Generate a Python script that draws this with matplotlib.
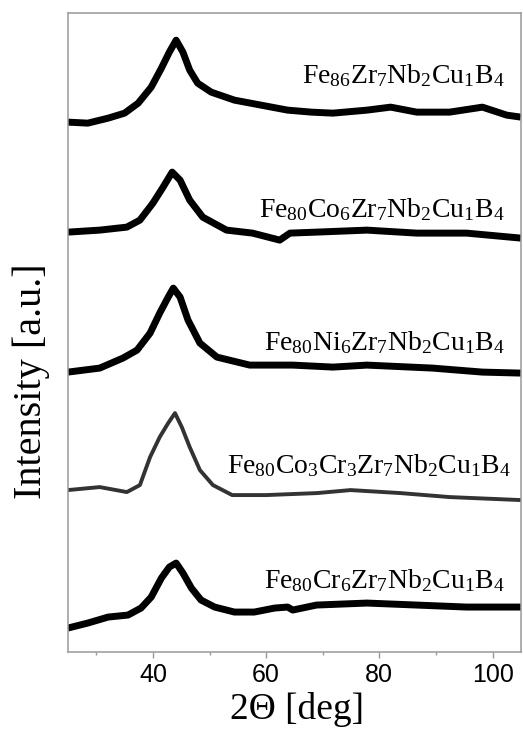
"""
XRD patterns of the Fe-based amorphous ribbons, stacked with vertical offsets.
Values read off the published figure (intensity in arbitrary units).
"""

import matplotlib
matplotlib.use("Agg")
import matplotlib.pyplot as plt

plt.rcParams["font.family"] = "Liberation Serif"
plt.rcParams["mathtext.fontset"] = "custom"
plt.rcParams["mathtext.rm"] = "Liberation Serif"
plt.rcParams["mathtext.it"] = "Liberation Serif:italic"

# --- data (2theta in deg, intensity in a.u., offsets already included) -------
tt_fe86 = [25, 28.5, 32.1, 35.0, 37.4, 39.7, 41.5, 42.9, 44.1, 45.3, 46.5, 47.9,
           50.3, 54.4, 59.1, 63.8, 68.0, 71.8, 77.8, 82.0, 86.6, 92.4, 98.2,
           102.5, 105]
i_fe86 = [530, 529, 534, 539, 549, 565, 584, 600, 612, 600, 582, 569,
          560, 552, 547, 542, 540, 539, 542, 545, 540, 540, 545,
          537, 535]

tt_co6 = [25, 30.6, 35.4, 37.7, 40.0, 41.8, 43.4, 44.8, 46.5, 48.8, 53.0,
          57.6, 62.4, 64.2, 68.9, 77.8, 86.6, 95.4, 105]
i_co6 = [420, 422, 425, 432, 449, 465, 480, 472, 452, 435, 422,
         419, 412, 419, 420, 422, 419, 419, 414]

tt_ni6 = [25, 30.6, 34.7, 37.2, 39.5, 41.2, 42.7, 43.6, 44.8, 46.2, 48.3, 51.3,
          57.1, 64.7, 71.8, 77.8, 89.4, 98.2, 105]
i_ni6 = [280, 284, 294, 302, 319, 339, 355, 364, 355, 332, 309, 295,
         287, 287, 285, 287, 284, 280, 279]

tt_co3cr3 = [25, 30.6, 35.4, 37.7, 39.5, 41.2, 42.7, 43.9, 45.1, 46.5, 48.3,
             50.6, 54.0, 60.0, 69.0, 74.9, 83.7, 92.4, 105]
i_co3cr3 = [162, 165, 160, 167, 195, 215, 229, 239, 225, 205, 182,
            167, 157, 157, 159, 162, 159, 155, 152]

tt_cr6 = [25, 28.5, 32.1, 35.6, 37.9, 39.7, 41.5, 42.9, 44.1, 45.3, 46.8, 48.5,
          50.9, 54.4, 57.9, 61.5, 63.8, 64.7, 68.9, 77.8, 86.6, 95.4, 105]
i_cr6 = [24, 29, 35, 37, 44, 55, 74, 85, 89, 79, 64, 52,
         45, 40, 40, 44, 45, 42, 47, 49, 47, 45, 45]

labels = [
    r"Fe$_{\mathregular{86}}$Zr$_{\mathregular{7}}$Nb$_{\mathregular{2}}$Cu$_{\mathregular{1}}$B$_{\mathregular{4}}$",
    r"Fe$_{\mathregular{80}}$Co$_{\mathregular{6}}$Zr$_{\mathregular{7}}$Nb$_{\mathregular{2}}$Cu$_{\mathregular{1}}$B$_{\mathregular{4}}$",
    r"Fe$_{\mathregular{80}}$Ni$_{\mathregular{6}}$Zr$_{\mathregular{7}}$Nb$_{\mathregular{2}}$Cu$_{\mathregular{1}}$B$_{\mathregular{4}}$",
    r"Fe$_{\mathregular{80}}$Co$_{\mathregular{3}}$Cr$_{\mathregular{3}}$Zr$_{\mathregular{7}}$Nb$_{\mathregular{2}}$Cu$_{\mathregular{1}}$B$_{\mathregular{4}}$",
    r"Fe$_{\mathregular{80}}$Cr$_{\mathregular{6}}$Zr$_{\mathregular{7}}$Nb$_{\mathregular{2}}$Cu$_{\mathregular{1}}$B$_{\mathregular{4}}$",
]
label_y = [569, 435, 302, 179, 64]     # baseline of each label (a.u.)

series = [(tt_fe86, i_fe86), (tt_co6, i_co6), (tt_ni6, i_ni6),
          (tt_co3cr3, i_co3cr3), (tt_cr6, i_cr6)]

# --- plot ---------------------------------------------------------------------
fig = plt.figure(figsize=(5.23, 7.31), dpi=100)
ax = fig.add_axes([0.130, 0.108, 0.866, 0.874])

for k, (tt, ii) in enumerate(series):
    if k == 3:   # this one is a thinner, greyer trace in the original
        ax.plot(tt, ii, color="#333333", lw=2.8, solid_joinstyle="round")
    else:
        ax.plot(tt, ii, color="black", lw=5.0, solid_joinstyle="round",
                solid_capstyle="butt")

for k, (txt, y) in enumerate(zip(labels, label_y)):
    x = 103.3 if k == 3 else 102.1
    ax.text(x, y, txt, ha="right", va="baseline", fontsize=20)

ax.set_xlim(25, 105)
ax.set_ylim(0, 639)
ax.set_xticks([40, 60, 80, 100])
ax.set_xticks([30, 50, 70, 90], minor=True)
ax.set_yticks([])
ax.tick_params(axis="x", which="major", direction="out", length=4, width=1,
               color="#999999", pad=4, labelsize=18)
ax.tick_params(axis="x", which="minor", direction="out", length=2.5, width=1,
               color="#999999")
for lbl in ax.get_xticklabels():
    lbl.set_fontfamily("Liberation Sans")
for sp in ax.spines.values():
    sp.set_color("#999999")
    sp.set_linewidth(1.1)

ax.set_xlabel("2\u0398 [deg]", fontsize=27, va="top")
ax.xaxis.set_label_coords(0.505, -0.063)
ax.set_ylabel("Intensity [a.u.]", fontsize=29, va="center")
ax.yaxis.set_label_coords(-0.082, 0.424)

fig.savefig("out.png", dpi=100)
